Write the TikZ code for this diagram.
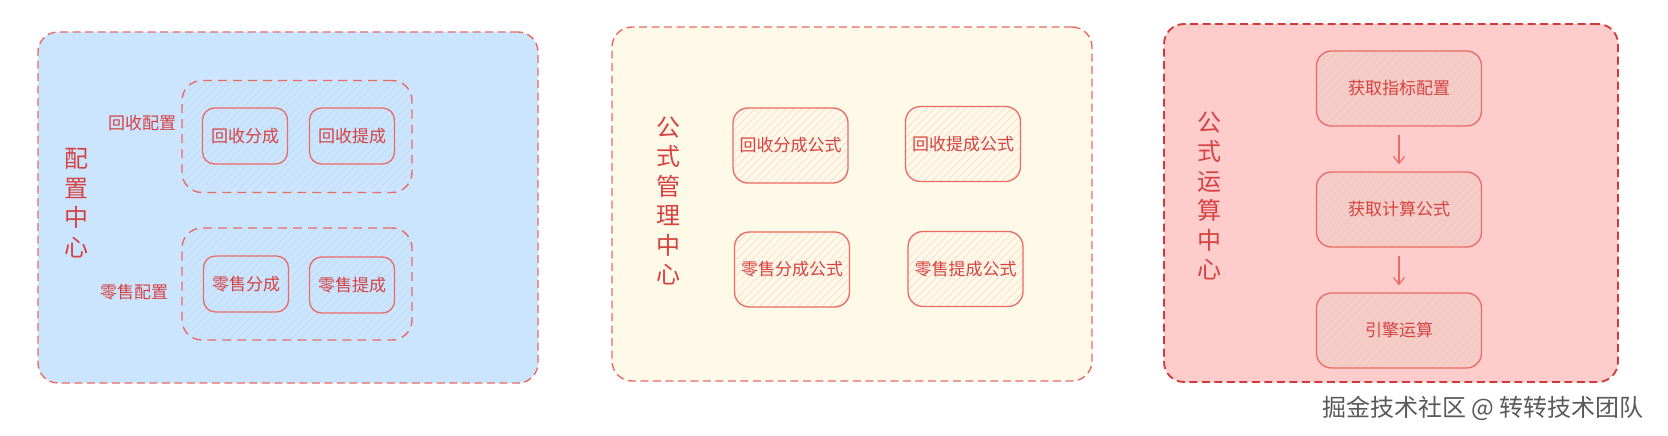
\documentclass[tikz,border=0pt]{standalone}
\usepackage{fontspec}
\setmainfont{Noto Sans CJK SC}
\usetikzlibrary{arrows.meta, patterns.meta}

\definecolor{configbg}{RGB}{204, 229, 255}
\definecolor{formulabg}{RGB}{255, 249, 231}
\definecolor{calcbg}{RGB}{255, 204, 204}
\definecolor{edge}{RGB}{234, 107, 102}
\definecolor{edgedark}{RGB}{210, 58, 58}
\definecolor{titlered}{RGB}{214, 66, 66}
\definecolor{hatchblue}{RGB}{188, 216, 242}
\definecolor{hatchpink}{RGB}{248, 210, 202}
\definecolor{stepfill}{RGB}{244, 202, 197}
\definecolor{hatchlight}{RGB}{249, 214, 208}

\begin{document}
\begin{tikzpicture}[
x=1pt, y=-1pt,
node distance=121pt,
center_box/.style={rectangle, draw=edge, line width=1.4pt, dash pattern=on 8pt off 4.5pt, rounded corners=20pt, inner sep=0pt},
group_box/.style={rectangle, draw=edge, line width=1.4pt, dash pattern=on 9pt off 6pt, rounded corners=20pt, minimum width=230pt, minimum height=112pt, pattern={Lines[angle=45, distance=5.5pt, line width=0.45pt]}, pattern color=hatchblue},
config_item/.style={rectangle, draw=edge, line width=1.3pt, rounded corners=12pt, minimum width=85pt, minimum height=56pt, text=titlered, font=\fontsize{17}{20}\selectfont},
formula_item/.style={rectangle, draw=edge, line width=1.3pt, rounded corners=15pt, minimum width=115pt, minimum height=75pt, pattern={Lines[angle=45, distance=5.5pt, line width=0.5pt]}, pattern color=hatchpink, text=titlered, font=\fontsize{17}{20}\selectfont},
step_item/.style={rectangle, draw=edge, line width=1.3pt, rounded corners=15pt, minimum width=165pt, minimum height=75pt, preaction={fill=stepfill}, pattern={Lines[angle=45, distance=5.5pt, line width=0.5pt]}, pattern color=hatchlight, text=titlered, font=\fontsize{17}{20}\selectfont},
group_label/.style={text=titlered, font=\fontsize{17}{20}\selectfont, inner sep=0pt},
title_text/.style={text=titlered, align=center, font=\fontsize{24}{29.5}\selectfont, inner sep=0pt},
arrow/.style={-{Straight Barb[length=7pt, width=11pt]}, draw=edge, line width=1.2pt, shorten >=7pt, shorten <=8pt}
]
\useasboundingbox (0,0) rectangle (1668,436);

% Centers
\node (config) [center_box, fill=configbg, minimum width=500pt, minimum height=351pt] at (288,207.5) {};
\node (formula) [center_box, fill=formulabg, minimum width=480pt, minimum height=354pt] at (852,204) {};
\node (calc) [center_box, fill=calcbg, draw=edgedark, line width=1.8pt, minimum width=454pt, minimum height=358pt] at (1391,203) {};

% Titles
\node (config_title) [title_text] at (76,203) {配\\置\\中\\心};
\node (formula_title) [title_text] at (668,201) {公\\式\\管\\理\\中\\心};
\node (calc_title) [title_text] at (1209,196) {公\\式\\运\\算\\中\\心};

% Config groups
\node (recycle_group) [group_box] at (297,136.5) {};
\node (retail_group) [group_box] at (297,284) {};
\node (recycle_label) [group_label] at (142,123) {回收配置};
\node (retail_label) [group_label] at (134,292) {零售配置};

\node (recycle_share) [config_item] at (245,136) {回收分成};
\node (recycle_bonus) [config_item] at (352,136) {回收提成};
\node (retail_share) [config_item] at (246,284) {零售分成};
\node (retail_bonus) [config_item] at (352,285) {零售提成};

% Formula nodes
\node (recycle_share_f) [formula_item] at (790.5,145.5) {回收分成公式};
\node (recycle_bonus_f) [formula_item] at (963,144) {回收提成公式};
\node (retail_share_f) [formula_item] at (792,269.5) {零售分成公式};
\node (retail_bonus_f) [formula_item] at (965.5,269) {零售提成公式};

% Calc steps
\node (get_config) [step_item] at (1399,88.5) {获取指标配置};
\node (get_formula) [step_item, below of=get_config] {获取计算公式};
\node (run_engine) [step_item, below of=get_formula] {引擎运算};

% Arrows
\draw [arrow] (get_config) -- (get_formula);
\draw [arrow] (get_formula) -- (run_engine);

% Watermark
\node (mark) [text=black!65, font=\fontsize{24}{28}\selectfont] at (1483,408) {掘金技术社区 @ 转转技术团队};

\end{tikzpicture}
\end{document}
